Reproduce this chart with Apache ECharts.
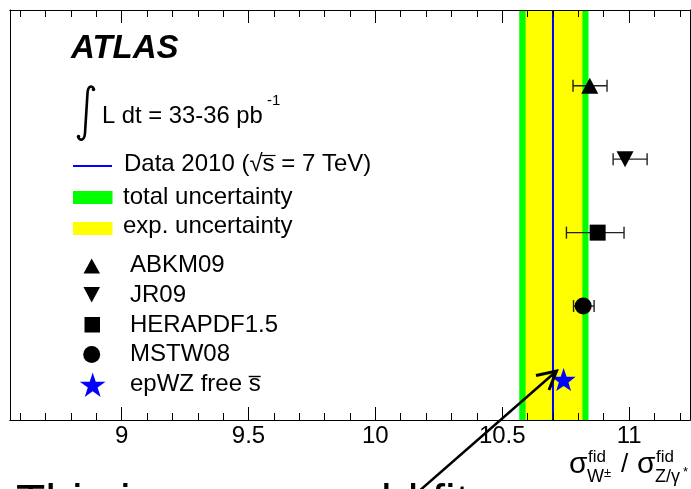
<!DOCTYPE html>
<html><head><meta charset="utf-8">
<script src="https://cdn.jsdelivr.net/npm/echarts@6/dist/echarts.min.js"></script>
<style>html,body{margin:0;padding:0;background:#fff}#c{width:691px;height:489px}</style>
</head><body><div id="c"></div>
<script>
// ---- data ----
const models = ['ABKM09', 'JR09', 'HERAPDF1.5', 'MSTW08', 'epWZ free s'];
const ratio = [10.845, 10.984, 10.876, 10.819, 10.742];
const errLow = [10.779, 10.937, 10.753, 10.781, null];
const errHigh = [10.913, 11.071, 10.980, 10.862, null];
const rowPos = [4.5, 3.5, 2.5, 1.5, 0.5];
const dataCentral = [10.70];
const totBand = [10.567, 10.840];
const expBand = [10.592, 10.816];
const majorTicks = [9, 9.5, 10, 10.5, 11];
const minorTicks = [8.6, 8.7, 8.8, 8.9, 9.0, 9.1, 9.2, 9.3, 9.4, 9.5, 9.6, 9.7, 9.8, 9.9, 10.0,
  10.1, 10.2, 10.3, 10.4, 10.5, 10.6, 10.7, 10.8, 10.9, 11.0, 11.1, 11.2];

// ---- styles ----
const FF = '"Liberation Sans", Arial, sans-serif';
const starPath = 'path://M0,-10 L2.35,-3.24 L9.51,-3.09 L3.8,1.24 L5.88,8.09 L0,4 L-5.88,8.09 L-3.8,1.24 L-9.51,-3.09 L-2.35,-3.24 Z';
const symbols = ['triangle', 'triangle', 'rect', 'circle', starPath];
const symRot = [0, 180, 0, 0, 0];
const symSize = [[17, 16], [17, 16], [16, 16], [17, 17], [24, 23]];
const symColor = ['#000', '#000', '#000', '#000', '#0000ff'];

const mctx = document.createElement('canvas').getContext('2d');
function tw(t, f) { mctx.font = f; return mctx.measureText(t).width; }

const chart = echarts.init(document.getElementById('c'), null, {renderer: 'canvas'});

function xAxisDef(pos, ticks, len, labels) {
  return {
    type: 'value', min: 8.56, max: 11.24, position: pos, z: 10,
    axisLine: {show: true, onZero: false, lineStyle: {color: '#000', width: 1}},
    axisTick: {show: true, inside: true, length: len, customValues: ticks, lineStyle: {color: '#000', width: 1}},
    axisLabel: labels ? {show: true, customValues: ticks, margin: 4, fontSize: 24, fontFamily: FF, color: '#000'} : {show: false},
    splitLine: {show: false}
  };
}
function yAxisDef(pos) {
  return {
    type: 'value', min: -0.05, max: 5.53, position: pos, z: 10,
    axisLine: {show: true, onZero: false, lineStyle: {color: '#000', width: 1}},
    axisTick: {show: false}, axisLabel: {show: false}, splitLine: {show: false}
  };
}

function bandSeries(band, color) {
  return {
    type: 'custom', z: 1, silent: true, xAxisIndex: 0, yAxisIndex: 0,
    encode: {x: [0, 1]},
    data: [[band[0], band[1]]],
    renderItem(params, api) {
      const lo = api.coord([api.value(0), 0]);
      const hi = api.coord([api.value(1), 0]);
      const cs = params.coordSys;
      return {type: 'rect', shape: {x: lo[0], y: cs.y, width: hi[0] - lo[0], height: cs.height},
        style: {fill: color}};
    }
  };
}

const errData = [];
const ptData = [];
models.forEach((m, i) => {
  if (errLow[i] != null) errData.push([errLow[i], errHigh[i], rowPos[i]]);
  ptData.push({value: [ratio[i], rowPos[i]], name: m, symbol: symbols[i], symbolRotate: symRot[i],
    symbolSize: symSize[i], itemStyle: {color: symColor[i], opacity: 1}});
});

// ---- legend / annotation graphics ----
const g = [];
function txt(t, x, y, size, opts) {
  opts = opts || {};
  g.push({type: 'text', x: x, y: y, z: 50, silent: true,
    style: {text: t, fill: opts.fill || '#000', align: opts.align || 'left', verticalAlign: 'middle',
      font: (opts.style || '') + ' ' + size + 'px ' + FF}});
}
function line(pts, w, color) {
  g.push({type: 'polyline', z: 50, silent: true, shape: {points: pts},
    style: {stroke: color || '#000', lineWidth: w, fill: null}});
}
function starPts(cx, cy, R) {
  const r = R * 0.382, pts = [];
  for (let k = 0; k < 10; k++) {
    const a = -Math.PI / 2 + k * Math.PI / 5;
    const rr = k % 2 ? r : R;
    pts.push([cx + rr * Math.cos(a), cy + rr * Math.sin(a)]);
  }
  return pts;
}

txt('ATLAS', 71, 49, 33, {style: 'italic bold'});
// integral sign
const intSt = {stroke: '#000', lineWidth: 2.6, fill: null};
g.push({type: 'bezierCurve', z: 50, silent: true,
  shape: {x1: 94, y1: 89, cpx1: 92, cpy1: 85, cpx2: 88, cpy2: 85.5, x2: 87.5, y2: 93}, style: intSt});
line([[87.5, 93], [85, 133]], 2.6);
g.push({type: 'bezierCurve', z: 50, silent: true,
  shape: {x1: 85, y1: 133, cpx1: 84.5, cpy1: 141, cpx2: 80, cpy2: 141, x2: 78, y2: 137}, style: intSt});
g.push({type: 'circle', z: 50, silent: true, shape: {cx: 93.5, cy: 89.5, r: 1.8}, style: {fill: '#000'}});
g.push({type: 'circle', z: 50, silent: true, shape: {cx: 78.5, cy: 136.5, r: 1.8}, style: {fill: '#000'}});
txt('L dt = 33-36 pb', 102, 116.5, 23.8);
txt('-1', 267, 101, 15);

// Data 2010 entry
line([[73, 166], [112, 166]], 2, '#0000ff');
const f24 = '24px ' + FF;
const dataPre = 'Data 2010 (\u221A';
txt(dataPre + 's = 7 TeV)', 124, 164.5, 24);
const ox = 124 + tw(dataPre, f24);
line([[ox - 1, 155.5], [ox + tw('s', f24) + 1, 155.5]], 1.2);

g.push({type: 'rect', z: 50, silent: true, shape: {x: 73, y: 191, width: 39.5, height: 13}, style: {fill: '#00ff00'}});
txt('total uncertainty', 123, 197, 24);
g.push({type: 'rect', z: 50, silent: true, shape: {x: 73, y: 222, width: 39.5, height: 13}, style: {fill: '#ffff00'}});
txt('exp. uncertainty', 123, 226, 24);

// marker legend
const legY = [265.5, 295, 325, 354.5, 384];
g.push({type: 'polygon', z: 50, silent: true, shape: {points: [[83.5, 273.5], [100, 273.5], [91.7, 258.5]]}, style: {fill: '#000'}});
g.push({type: 'polygon', z: 50, silent: true, shape: {points: [[83.5, 287], [100, 287], [91.7, 302.5]]}, style: {fill: '#000'}});
g.push({type: 'rect', z: 50, silent: true, shape: {x: 84.5, y: 317, width: 15.5, height: 15.5}, style: {fill: '#000'}});
g.push({type: 'circle', z: 50, silent: true, shape: {cx: 91.7, cy: 354.5, r: 8.5}, style: {fill: '#000'}});
g.push({type: 'polygon', z: 50, silent: true, shape: {points: starPts(92.7, 386, 13.5)}, style: {fill: '#0000ff'}});
models.forEach((m, i) => txt(m, 130, legY[i], 24));
const sx = 130 + tw('epWZ free ', f24);
line([[sx, 376.5], [sx + tw('s', f24), 376.5]], 1.4);

// axis title  sigma^fid_{W±} / sigma^fid_{Z/gamma*}
txt('\u03C3', 569, 465, 30);
txt('fid', 588, 457.5, 17);
txt('W', 587, 477, 18);
txt('\u00B1', 604, 473, 13);
txt('/', 621, 465, 26);
txt('\u03C3', 637, 465, 30);
txt('fid', 656, 457.5, 17);
txt('Z/\u03B3', 655, 477.5, 18);
txt('*', 683, 472, 13);

// partially visible caption under the chart
txt('This is', 16, 505, 48);
txt('ld fit', 381, 505, 48);

// arrow
line([[402, 506], [556, 371.5]], 2.5);
line([[536, 375.5], [556.5, 371], [549, 390]], 3);

chart.setOption({
  animation: false,
  backgroundColor: '#fff',
  grid: {left: 10, right: 1, top: 10, bottom: 69, containLabel: false},
  xAxis: [
    xAxisDef('bottom', majorTicks, 13, true),
    xAxisDef('bottom', minorTicks, 7, false),
    xAxisDef('top', majorTicks, 13, false),
    xAxisDef('top', minorTicks, 7, false)
  ],
  yAxis: [yAxisDef('left'), yAxisDef('right')],
  series: [
    bandSeries(totBand, '#00ff00'),
    bandSeries(expBand, '#ffff00'),
    {
      type: 'custom', z: 2, silent: true, encode: {x: 0},
      data: dataCentral.map(v => [v]),
      renderItem(params, api) {
        const p = api.coord([api.value(0), 0]);
        const cs = params.coordSys;
        return {type: 'line', shape: {x1: p[0], y1: cs.y, x2: p[0], y2: cs.y + cs.height},
          style: {stroke: '#0000ff', lineWidth: 2}};
      }
    },
    {
      type: 'custom', z: 3, silent: true, encode: {x: [0, 1], y: 2},
      data: errData,
      renderItem(params, api) {
        const a = api.coord([api.value(0), api.value(2)]);
        const b = api.coord([api.value(1), api.value(2)]);
        const h = 6, st = {stroke: '#222', lineWidth: 1.4};
        return {type: 'group', children: [
          {type: 'line', shape: {x1: a[0], y1: a[1], x2: b[0], y2: b[1]}, style: st},
          {type: 'line', shape: {x1: a[0], y1: a[1] - h, x2: a[0], y2: a[1] + h}, style: st},
          {type: 'line', shape: {x1: b[0], y1: b[1] - h, x2: b[0], y2: b[1] + h}, style: st}
        ]};
      }
    },
    {type: 'scatter', z: 4, silent: true, data: ptData}
  ],
  graphic: g
});
</script></body></html>
